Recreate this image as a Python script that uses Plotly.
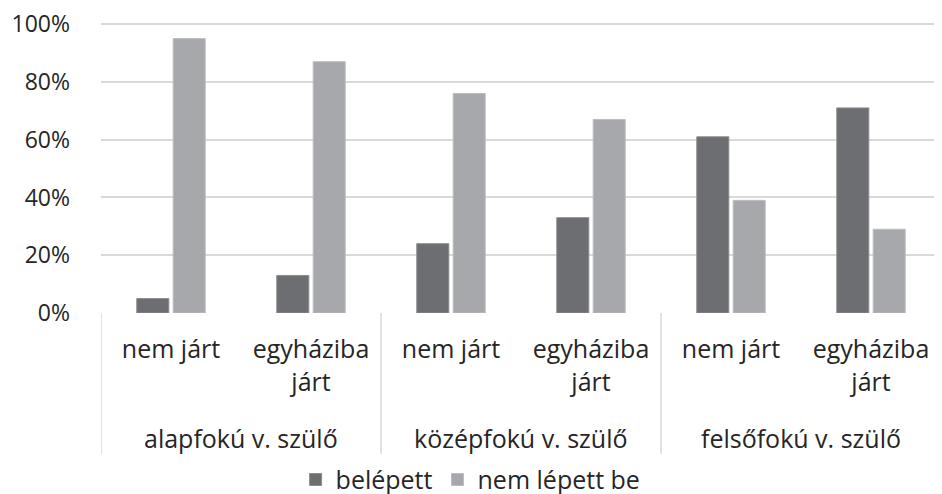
import plotly.graph_objects as go

# outer categories (parent's education) and inner categories (church attendance)
szulo = ["alapfokú v. szülő", "középfokú v. szülő", "felsőfokú v. szülő"]
templom = ["nem járt", "egyháziba<br>járt"]

belepett = [0.05, 0.13, 0.24, 0.33, 0.61, 0.71]
nem_lepett_be = [0.95, 0.87, 0.76, 0.67, 0.39, 0.29]

COLOURS = ["#6d6e71", "#a7a8ab"]
FONT = dict(family="Open Sans", size=23, color="#262626")
CAT_FONT = dict(family="Open Sans", size=25, color="#262626")
GRID = "#d9d9d9"

# one unique category per bar group, labelled with the inner label
keys = [f"{s}|{t}" for s in szulo for t in templom]
inner_text = [t for s in szulo for t in templom]

fig = go.Figure()
fig.add_trace(go.Bar(name="belépett", x=keys, y=belepett,
                     marker=dict(color=COLOURS[0], line=dict(color="#8c8d90", width=1))))
fig.add_trace(go.Bar(name="nem lépett be", x=keys, y=nem_lepett_be,
                     marker=dict(color=COLOURS[1], line=dict(color="#bcbdbf", width=1))))

# outer labels and dividers
for i, s in enumerate(szulo):
    fig.add_annotation(x=2 * i + 0.5, xref="x", y=-0.43, yref="paper",
                       text=s, showarrow=False, font=CAT_FONT, yanchor="middle")
for i in range(len(szulo)):
    fig.add_shape(type="line", xref="x", yref="paper", x0=2 * i - 0.5, x1=2 * i - 0.5,
                  y0=0, y1=-0.485, line=dict(color=GRID, width=1.5))

# page body adds an 8px offset, so the figure is kept 8px smaller than the window
fig.update_layout(
    width=934, height=486,
    margin=dict(l=93, r=1, t=15, b=181, autoexpand=False),
    paper_bgcolor="white", plot_bgcolor="white",
    barmode="group", bargap=0.48, bargroupgap=0.12,
    showlegend=True,
    legend=dict(orientation="h", x=0.44, xanchor="center", y=-0.575, yanchor="middle",
                font=CAT_FONT, itemwidth=30, traceorder="normal",
                bgcolor="rgba(0,0,0,0)"),
    yaxis=dict(range=[0, 1.004], tickvals=[0, 0.2, 0.4, 0.6, 0.8, 1.0], tickformat=".0%",
               showgrid=True, gridcolor=GRID, gridwidth=1.5,
               zeroline=False, showline=False, tickfont=FONT,
               ticks="", ticklabelstandoff=30, ticklabeloverflow="allow"),
    xaxis=dict(type="category", tickvals=keys, ticktext=inner_text, tickfont=CAT_FONT,
               showline=False, ticks="", showgrid=False, ticklabelstandoff=19,
               range=[-0.5, 5.5]),
)

fig.write_html("out.html")
